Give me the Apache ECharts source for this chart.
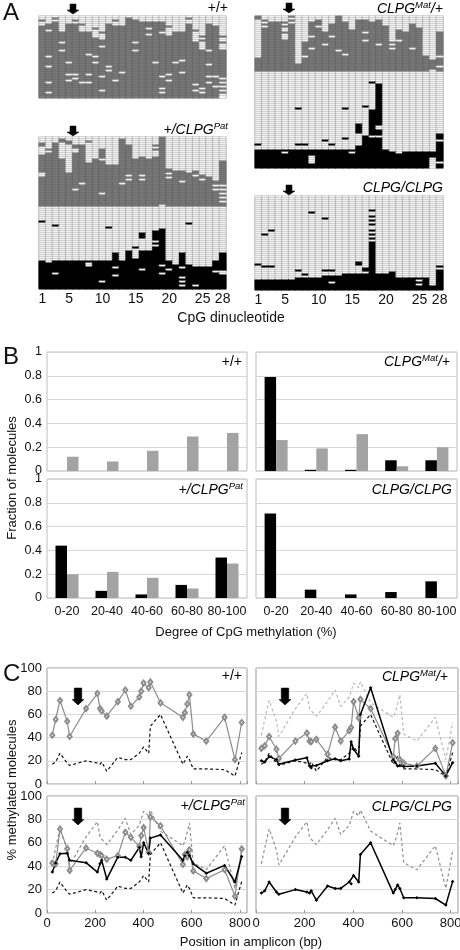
<!DOCTYPE html>
<html><head><meta charset="utf-8">
<script src="https://cdn.jsdelivr.net/npm/echarts/dist/echarts.min.js"></script>
<style>html,body{margin:0;padding:0;background:#fff}#c{width:460px;height:950px}</style>
</head><body><div id="c"></div><script>
// ---------- DATA ----------
// Panel A: CpG columns
const cpgCats = ['1','2','3','4','5','6','7','8','9','10','11','12','13','14','15','16','17','18','19','20','21','22','23','24','25','26','27','28'];
const cpgTickIdx = [0,4,9,14,19,24,27];
// +/+ : 41 molecules (wild-type allele only). count of unmethylated (white) rows at top per CpG
const ppRows = 41;
const ppGrayTop = [5,4,3,8,4,4,8,8,11,12,4,5,5,2,2,3,3,3,3,10,8,8,4,13,17,4,5,17];
const ppFlips = [[2,7],[2,20],[2,25],[2,33],[2,38],[4,13],[4,17],[5,23],[5,29],[5,32],[6,29],[6,31],[7,33],[8,19],[8,29],[8,33],[9,20],[9,23],[10,15],[10,30],[10,37],[11,25],[11,27],[12,32],[13,28],[15,13],[15,17],[17,6],[17,9],[18,23],[19,8],[19,30],[19,36],[19,38],[20,29],[20,32],[21,23],[22,22],[22,28],[23,1],[24,34],[24,37],[25,36],[25,38],[26,17],[26,24],[26,30],[26,33],[27,30],[27,35],[28,31],[28,33],[28,35],[28,37],[28,39],[28,40],[1,2],[3,1],[6,2],[7,4],[9,6],[10,8],[12,2],[14,1],[20,5],[24,7],[25,10],[25,12],[28,10],[28,13]];
// +/CLPG(Pat): 35 wild-type (gray) + 41 CLPG (black) molecules
const patGrayRows = 35;
const patGrayTop = [9,8,3,11,18,4,4,13,11,6,14,14,1,4,11,10,11,10,0,16,17,17,18,17,19,20,22,12];
const patGrayFlips = [[1,3],[1,4],[1,18],[1,19],[2,6],[4,1],[4,2],[5,2],[5,3],[6,6],[6,7],[6,26],[7,23],[10,28],[13,23],[14,19],[14,21],[16,19],[16,21],[20,18],[20,20],[22,22],[24,19],[25,21],[27,24],[27,26],[28,24],[28,26],[28,28],[28,30],[28,32],[19,34],[10,11],[8,2],[18,4],[18,6]];
const patBlackRows = 41;
const patBlackTop = [27,28,27,27,27,27,27,27,27,27,27,23,27,22,26,22,22,12,11,27,29,23,29,30,30,30,27,23];
const patBlackFlips = [[1,7],[3,9],[11,10],[23,8],[16,13],[16,14],[16,15],[15,20],[18,17],[18,19],[3,33],[8,28],[8,29],[10,37],[12,30],[12,34],[16,31],[19,29],[19,33],[20,31],[22,30],[22,35],[22,37],[22,39],[24,39],[27,32],[28,33],[28,32]];
// CLPG(Mat)/+: 28 wild-type (gray) + 48 CLPG (black) molecules
const matGrayRows = 28;
const matGrayTop = [21,7,4,3,12,0,23,13,3,2,8,4,0,3,7,2,2,3,2,5,15,7,8,4,6,20,22,8];
const matGrayFlips = [[1,0],[1,1],[2,2],[2,4],[2,6],[3,3],[5,3],[5,5],[5,8],[6,1],[6,3],[7,23],[9,10],[9,16],[11,14],[13,17],[14,19],[17,8],[17,12],[19,14],[21,13],[21,16],[22,12],[24,16],[27,27],[28,20],[28,25],[8,20],[10,5],[12,10]];
const matBlackRows = 48;
const matBlackTop = [39,39,39,39,39,39,39,39,39,39,39,39,39,39,39,26,32,19,6,39,40,40,40,40,40,40,40,31];
const matBlackFlips = [[1,36],[7,18],[7,36],[8,36],[11,34],[12,36],[14,18],[14,33],[17,17],[18,5],[18,32],[19,32],[16,31],[16,32],[16,33],[16,34],[16,35],[16,36],[5,40],[9,42],[9,43],[9,44],[9,45],[15,40],[22,40],[27,43],[27,44],[27,45],[27,46],[27,47],[28,34],[28,45],[19,27],[19,28]];
// CLPG/CLPG: 47 CLPG molecules
const homRows = 47;
const homBlackTop = [42,42,42,42,42,42,41,41,41,41,40,40,40,39,39,39,39,21,39,39,39,41,41,41,41,41,45,35];
const homFlips = [[1,34],[2,35],[3,35],[2,19],[3,17],[9,8],[11,11],[18,7],[18,10],[18,12],[18,14],[18,17],[18,19],[7,37],[8,39],[11,37],[12,37],[12,43],[16,33],[16,34],[17,36],[17,37],[21,38],[25,42],[25,44],[28,36],[18,22]];

// Panel B
const bCats = ['0-20','20-40','40-60','60-80','80-100'];
const bPPBlack = [0,0,0,0,0];
const bPPGray = [0.12,0.08,0.17,0.29,0.32];
const bMatBlack = [0.79,0.01,0.01,0.09,0.09];
const bMatGray = [0.26,0.19,0.31,0.04,0.20];
const bPatBlack = [0.44,0.06,0.03,0.11,0.34];
const bPatGray = [0.20,0.22,0.17,0.08,0.29];
const bHomBlack = [0.71,0.07,0.03,0.05,0.14];
const bHomGray = [0,0,0,0,0];
const bTicks = [0,0.2,0.4,0.6,0.8,1];

// Panel C: CpG positions (bp) and % methylated molecules
const cpgPos = [22,36,54,84,94,162,209,220,227,248,294,325,348,383,391,401,422,429,471,564,572,582,591,607,661,737,780,808];
const cWT = [42,55.6,72,54,41,65,78,65,63,58.5,71,81,67,75,80,87,83,88,70,57.5,61.5,69,77,43,37,57.5,21,53];
const cHom = [17,19,26.5,18,16,20,18,17,19,11,23,21,21,26.5,25,32,26.5,50,60,17,20,24,21,13,13,12.4,6.8,27];
const cMatGray = [30.7,33,41,30,22,37,44,37,36.5,38.5,25.6,49,37,46,48.6,71,57,73,65,23.6,39,43.7,21,18,15.5,30.7,7,35.6];
const cMatBlack = [20,19,23.6,21,17,20.7,22.7,15.5,14,16,20,21.8,20,21.6,36.5,30,24,60,83,21,18.7,15.5,16,15,15.5,17.8,7,18.4];
const cPatGray = [42.7,42,71.8,55,36.4,55.6,51,50,49,46,49,69,64.7,57,66,73,52,82,74.6,41.5,50,48,54,36,29.4,37,14.4,54.8];
const cPatBlack = [35,42.7,50.6,51,45,43,35,42,45,29,47.7,47.7,45,56,48,60,51,64,66.7,45,49,52,49,42,34,40.7,26.5,48.3];

// ---------- BUILD ----------
const FF = 'Liberation Sans';
const TXT = '#111';
const cellBorder = ['#979797','#5e5e5e','#000000'];
function buildCells(sections){
  const out=[]; let off=0;
  sections.forEach(s=>{
    const fl=new Set(s.flips.map(f=>(f[0]-1)+'_'+f[1]));
    for(let r=0;r<s.rows;r++) for(let c=0;c<cpgCats.length;c++){
      let on = r>=s.top[c];
      if(fl.has(c+'_'+r)) on=!on;
      const v = on? s.val:0;
      out.push({value:[c, off+r, v], itemStyle:{borderColor:cellBorder[v]}});
    }
    off+=s.rows;
  });
  return {data:out, rows:off};
}
const hm = [
  buildCells([{rows:ppRows, top:ppGrayTop, flips:ppFlips, val:1}]),
  buildCells([{rows:patGrayRows, top:patGrayTop, flips:patGrayFlips, val:1},{rows:patBlackRows, top:patBlackTop, flips:patBlackFlips, val:2}]),
  buildCells([{rows:matGrayRows, top:matGrayTop, flips:matGrayFlips, val:1},{rows:matBlackRows, top:matBlackTop, flips:matBlackFlips, val:2}]),
  buildCells([{rows:homRows, top:homBlackTop, flips:homFlips, val:2}])
];
const hmGrids = [
  {left:39, top:16, width:187, height:ppRows*2},
  {left:39, top:137, width:187, height:(patGrayRows+patBlackRows)*2},
  {left:255, top:16, width:188, height:(matGrayRows+matBlackRows)*2},
  {left:255, top:196, width:188, height:homRows*2}
];
const bGrids = [
  {left:47, top:352, width:200, height:119},
  {left:256, top:352, width:201, height:119},
  {left:47, top:479, width:200, height:119},
  {left:256, top:479, width:201, height:119}
];
const cGrids = [
  {left:47, top:668, width:200, height:116},
  {left:256, top:668, width:202, height:116},
  {left:47, top:796, width:200, height:117},
  {left:256, top:796, width:202, height:117}
];
const grid=[], xAxis=[], yAxis=[], series=[];
hmGrids.forEach((g,i)=>{
  grid.push(Object.assign({outerBoundsMode:'none', containLabel:false},g));
  const showLab = (i===1||i===3);
  xAxis.push({type:'category', gridIndex:i, data:cpgCats, axisLine:{show:false}, axisTick:{show:false}, splitLine:{show:false},
    axisLabel:{show:showLab, interval:(idx)=>cpgTickIdx.includes(idx), fontSize:14, fontFamily:FF, color:TXT, margin:3, hideOverlap:false}});
  yAxis.push({type:'category', gridIndex:i, inverse:true, data:Array.from({length:hm[i].rows},(_,k)=>String(k)), show:false});
  series.push({type:'heatmap', xAxisIndex:i, yAxisIndex:i, data:hm[i].data, progressive:0, animation:false,
    itemStyle:{borderColor:'#979797', borderWidth:0.5}, emphasis:{disabled:true}});
});
const bSets = [[bPPBlack,bPPGray],[bMatBlack,bMatGray],[bPatBlack,bPatGray],[bHomBlack,bHomGray]];
bGrids.forEach((g,k)=>{
  const i=4+k;
  grid.push(Object.assign({outerBoundsMode:'none', containLabel:false, show:true, borderColor:'#bdbdbd', borderWidth:1},g));
  xAxis.push({type:'category', gridIndex:i, data:bCats, axisLine:{show:false}, axisTick:{show:false}, splitLine:{show:false},
    axisLabel:{show:k>=2, fontSize:12.5, fontFamily:FF, color:TXT, margin:7, interval:0}});
  yAxis.push({type:'value', gridIndex:i, min:bTicks[0], max:bTicks[bTicks.length-1], interval:0.2,
    axisLine:{show:false}, axisTick:{show:false}, splitLine:{show:true, lineStyle:{color:'#d6d6d6', width:1}},
    axisLabel:{show:k%2===0, fontSize:12.5, fontFamily:FF, color:TXT, margin:5, formatter:v=>String(Math.round(v*10)/10)}});
  series.push({type:'bar', xAxisIndex:i, yAxisIndex:i, data:bSets[k][0], barWidth:11.5, barGap:'0%', itemStyle:{color:'#000'}, animation:false});
  series.push({type:'bar', xAxisIndex:i, yAxisIndex:i, data:bSets[k][1], barWidth:11.5, barGap:'0%', itemStyle:{color:'#a3a3a3'}, animation:false});
});
cGrids.forEach((g,k)=>{
  const i=8+k;
  grid.push(Object.assign({outerBoundsMode:'none', containLabel:false, show:true, borderColor:'#9a9a9a', borderWidth:1},g));
  xAxis.push({type:'value', gridIndex:i, min:0, max:830, interval:200, axisLine:{show:false},
    axisTick:{show:true, inside:true, length:3, lineStyle:{color:'#999'}}, splitLine:{show:false},
    axisLabel:{show:k>=2, fontSize:13, fontFamily:FF, color:TXT, margin:4, showMaxLabel:false}});
  yAxis.push({type:'value', gridIndex:i, min:0, max:100, interval:20, axisLine:{show:false}, axisTick:{show:false},
    splitLine:{show:true, lineStyle:{color:'#d9d9d9'}},
    axisLabel:{show:k%2===0, fontSize:13, fontFamily:FF, color:TXT, margin:5}});
});
const pts = v=>cpgPos.map((p,j)=>[p,v[j]]);
function dashed(i, v, color){ return {type:'line', xAxisIndex:i, yAxisIndex:i, data:pts(v), symbol:'none', lineStyle:{color, width:1.2, type:[3,2.5]}, animation:false, silent:true}; }
function grayDia(i, v){ return {type:'line', xAxisIndex:i, yAxisIndex:i, data:pts(v), symbol:'emptyDiamond', symbolSize:[4,5], lineStyle:{color:'#8c8c8c', width:1.2}, itemStyle:{color:'#8c8c8c', borderWidth:0.8}, animation:false, silent:true}; }
function blackDot(i, v){ return {type:'line', xAxisIndex:i, yAxisIndex:i, data:pts(v), symbol:'diamond', symbolSize:3.5, lineStyle:{color:'#000', width:1.5}, itemStyle:{color:'#000'}, animation:false, silent:true}; }
series.push(dashed(8, cHom, '#111'), grayDia(8, cWT));
series.push(dashed(9, cWT, '#b8b8b8'), dashed(9, cHom, '#111'), grayDia(9, cMatGray), blackDot(9, cMatBlack));
series.push(dashed(10, cWT, '#8f8f8f'), dashed(10, cHom, '#111'), grayDia(10, cPatGray), blackDot(10, cPatBlack));
series.push(dashed(11, cWT, '#8f8f8f'), blackDot(11, cHom));

// ---------- GRAPHICS (labels, arrows) ----------
const rich = {
  i:{fontStyle:'italic', fontSize:14, fontFamily:FF, color:TXT, lineHeight:17},
  n:{fontSize:14, fontFamily:FF, color:TXT, lineHeight:17},
  s:{fontStyle:'italic', fontSize:9.5, fontFamily:FF, color:TXT, lineHeight:10, verticalAlign:'top'}
};
const G = {pp:'{n|+/+}', mat:'{i|CLPG}{s|Mat}{i|/+}', pat:'{i|+/CLPG}{s|Pat}', hom:'{i|CLPG/CLPG}'};
function geno(x,y,key){ return {type:'text', x, y, z:100, style:{text:G[key], rich, align:'right', verticalAlign:'middle'}, silent:true}; }
function txt(x,y,t,size,opts){ return Object.assign({type:'text', x, y, z:100, style:{text:t, fontSize:size, fontFamily:FF, fill:TXT, align:'center', verticalAlign:'middle'}, silent:true}, opts||{}); }
function arrow(cx, top, h, shaftW, headW, headH){
  const s=shaftW/2, hw=headW/2, hs=top+h-headH;
  return {type:'polygon', z:100, shape:{points:[[cx-s,top],[cx+s,top],[cx+s,hs],[cx+hw,hs],[cx,top+h],[cx-hw,hs],[cx-s,hs]]}, style:{fill:'#000', stroke:'#000', lineWidth:0.5}, silent:true};
}
const graphic = [
  {type:'text', x:3, y:1, z:100, style:{text:'A', fontSize:24, fontFamily:FF, fill:TXT, align:'left', verticalAlign:'top'}},
  {type:'text', x:3, y:345, z:100, style:{text:'B', fontSize:24, fontFamily:FF, fill:TXT, align:'left', verticalAlign:'top'}},
  {type:'text', x:3, y:662, z:100, style:{text:'C', fontSize:24, fontFamily:FF, fill:TXT, align:'left', verticalAlign:'top'}},
  geno(228,8,'pp'), geno(443,9,'mat'), geno(228,130,'pat'), geno(443,188,'hom'),
  geno(242,362,'pp'), geno(450,362,'mat'), geno(243,490,'pat'), geno(452,490,'hom'),
  geno(242,676,'pp'), geno(448,677,'mat'), geno(245,806,'pat'), geno(452,807,'hom'),
  txt(231,318,'CpG dinucleotide',14),
  txt(12,478,'Fraction of molecules',13,{rotation:Math.PI/2}),
  txt(246,632,'Degree of CpG methylation (%)',13),
  txt(12,790,'% methylated molecules',13,{rotation:Math.PI/2}),
  txt(251,942,'Position in amplicon (bp)',13),
  arrow(73,4,10,6,12,4), arrow(73,126,10,6,12,4), arrow(289,3,10,6,12,4), arrow(289,185,10,6,12,4),
  arrow(78,688,17,7.5,12,5.5), arrow(285,688,17,7.5,12,5.5), arrow(78,808,17,7.5,12,5.5), arrow(285,808,17,7.5,12,5.5)
];

const chart = echarts.init(document.getElementById('c'), null, {renderer:'canvas', devicePixelRatio:1});
chart.setOption({
  animation:false, backgroundColor:'#fff',
  textStyle:{fontFamily:FF},
  grid, xAxis, yAxis, series, graphic,
  visualMap:{type:'piecewise', show:false, seriesIndex:[0,1,2,3], dimension:2,
    pieces:[{value:0,color:'#ffffff'},{value:1,color:'#7d7d7d'},{value:2,color:'#000000'}]}
});
</script></body></html>
